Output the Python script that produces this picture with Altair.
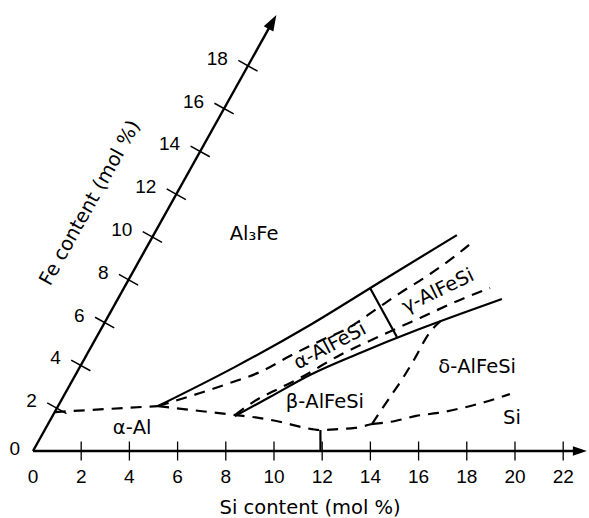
import altair as alt
import pandas as pd

SKEW = 0.4955  # horizontal shift (in Si units) per unit of Fe on the 60-degree Fe axis

# ---------------- axes ----------------
si_ticks = [2, 4, 6, 8, 10, 12, 14, 16, 18, 20, 22]
si_labels = [0, 2, 4, 6, 8, 10, 12, 14, 16, 18, 20, 22]
fe_ticks = [2, 4, 6, 8, 10, 12, 14, 16, 18]
fe_labels = [2, 4, 6, 8, 10, 12, 14, 16, 18]
si_axis_end = 22.7
fe_axis_end = 19.9
si_arrow_at = 22.62
fe_arrow_at = 19.97

# ---------------- phase boundaries (Si mol %, Fe mol %) ----------------
upper_solid_si = [4.15, 6.44, 8.58, 10.62, 12.59]
upper_solid_fe = [2.10, 3.93, 5.89, 8.04, 10.09]
lower_solid_si = [7.57, 8.58, 9.73, 11.30, 13.13, 14.55, 15.94]
lower_solid_fe = [1.63, 2.52, 3.55, 4.58, 5.65, 6.40, 7.10]
divider_si = [10.21, 12.46]
divider_fe = [7.62, 5.33]
eutectic_si = [11.93, 11.44]
eutectic_fe = [0.0, 0.98]

alal_upper_si = [0.0, 4.15]
alal_upper_fe = [1.82, 2.10]
band_upper_si = [4.15, 5.59, 6.60, 7.59, 8.46, 9.36, 10.28, 11.00, 11.57, 12.38, 13.00, 13.45]
band_upper_fe = [2.10, 2.71, 3.18, 3.69, 4.44, 5.14, 5.79, 6.68, 7.38, 8.27, 9.11, 9.86]
band_lower_si = [7.55, 8.05, 8.79, 9.39, 10.52, 11.74, 12.98, 14.22, 15.19]
band_lower_fe = [1.68, 2.34, 2.94, 3.41, 4.49, 5.37, 6.22, 7.06, 7.62]
alal_lower_si = [4.15, 6.00, 7.55, 8.66, 9.81, 10.75, 11.42, 12.23, 12.83, 13.44]
alal_lower_fe = [2.10, 1.87, 1.68, 1.54, 1.31, 1.08, 0.98, 1.03, 1.08, 1.26]
delta_si = [13.44, 13.55, 13.66, 13.70, 13.70, 13.90]
delta_fe = [1.26, 2.38, 3.41, 4.35, 5.42, 6.06]
si_phase_si = [13.44, 14.33, 15.08, 15.93, 16.81, 17.62, 18.47]
si_phase_fe = [1.26, 1.40, 1.64, 1.78, 2.01, 2.29, 2.66]

# ---------------- region labels ----------------
flat_text = ["Al\u2083Fe", "\u03b1-Al", "\u03b2-AlFeSi", "\u03b4-AlFeSi", "Si"]
flat_si = [4.15, 3.58, 10.98, 16.48, 19.11]
flat_fe = [10.14, 1.08, 2.29, 3.93, 1.54]
rot_text = ["\u03b1-AlFeSi", "\u03b3-AlFeSi"]
rot_si = [9.89, 13.10]
rot_fe = [4.91, 7.48]
rot_angle = [332, 334]


def line_df(name, si, fe):
    return pd.DataFrame({"name": name, "si": si, "fe": fe, "i": list(range(len(si)))})


axes_df = pd.concat([
    line_df("si_axis", [0, si_axis_end], [0, 0]),
    line_df("fe_axis", [0, 0], [0, fe_axis_end]),
])
curve_df = pd.concat([
    line_df("upper", upper_solid_si, upper_solid_fe),
    line_df("lower", lower_solid_si, lower_solid_fe),
])
straight_df = pd.concat([
    line_df("divider", divider_si, divider_fe),
    line_df("eutectic", eutectic_si, eutectic_fe),
])
dashed_df = pd.concat([
    line_df("alal_upper", alal_upper_si, alal_upper_fe),
    line_df("band_upper", band_upper_si, band_upper_fe),
    line_df("band_lower", band_lower_si, band_lower_fe),
    line_df("alal_lower", alal_lower_si, alal_lower_fe),
    line_df("delta", delta_si, delta_fe),
    line_df("si", si_phase_si, si_phase_fe),
])

xs = alt.Scale(domain=[-1.369, 23.071], nice=False, zero=False)
ys = alt.Scale(domain=[-3.131, 21.075], nice=False, zero=False)
X = alt.X("X:Q", scale=xs, axis=None)
Y = alt.Y("fe:Q", scale=ys, axis=None)
CALC = f"datum.si + {SKEW} * datum.fe"


def base(df):
    return alt.Chart(df).transform_calculate(X=CALC)


layers = []

layers.append(base(axes_df).mark_line(color="black", strokeWidth=2.4).encode(
    x=X, y=Y, detail="name:N", order="i:Q"))
layers.append(base(curve_df).mark_line(color="black", strokeWidth=2.2, interpolate="monotone").encode(
    x=X, y=Y, detail="name:N", order="i:Q"))
layers.append(base(straight_df).mark_line(color="black", strokeWidth=2.2).encode(
    x=X, y=Y, detail="name:N", order="i:Q"))
layers.append(base(dashed_df).mark_line(color="black", strokeWidth=2.2, strokeDash=[11, 8],
                                        interpolate="monotone").encode(
    x=X, y=Y, detail="name:N", order="i:Q"))

# Si axis ticks
si_tick_df = pd.DataFrame({"si": si_ticks, "fe": [0] * len(si_ticks)})
layers.append(base(si_tick_df).mark_point(shape="M0,-1L0,1", size=360, filled=False, color="black",
                                          strokeWidth=1.3, opacity=1).encode(x=X, y=Y))
# Fe axis ticks (perpendicular to the slanted axis)
fe_tick_df = pd.DataFrame({"si": [0] * len(fe_ticks), "fe": fe_ticks})
layers.append(base(fe_tick_df).mark_point(shape="M-1,0L1,0", angle=29.2, size=484, filled=False,
                                          color="black", strokeWidth=1.5, opacity=1).encode(x=X, y=Y))

# Arrowheads
arrow = "M0,-1L0.55,0.6L-0.55,0.6Z"
layers.append(base(pd.DataFrame({"si": [si_arrow_at], "fe": [0]})).mark_point(
    shape=arrow, angle=90, size=306, filled=True, color="black", opacity=1, strokeWidth=0).encode(x=X, y=Y))
layers.append(base(pd.DataFrame({"si": [0], "fe": [fe_arrow_at]})).mark_point(
    shape=arrow, angle=29.2, size=400, filled=True, color="black", opacity=1, strokeWidth=0).encode(x=X, y=Y))

# Tick labels
TICK_FONT = "Liberation Sans"
si_lab_df = pd.DataFrame({"si": si_labels, "fe": [0] * len(si_labels), "t": [str(v) for v in si_labels]})
layers.append(base(si_lab_df).mark_text(font=TICK_FONT, fontSize=19, dy=26, align="center",
                                        baseline="middle", color="black").encode(x=X, y=Y, text="t:N"))
fe_lab_df = pd.DataFrame({"si": [0] * len(fe_labels), "fe": fe_labels, "t": [str(v) for v in fe_labels]})
layers.append(base(fe_lab_df).mark_text(font=TICK_FONT, fontSize=19, dx=-20, dy=-7, align="right",
                                        baseline="middle", color="black").encode(x=X, y=Y, text="t:N"))
layers.append(base(pd.DataFrame({"si": [0], "fe": [0], "t": ["0"]})).mark_text(
    font=TICK_FONT, fontSize=19, dx=-13, dy=-2, align="right", baseline="middle", color="black").encode(
    x=X, y=Y, text="t:N"))

# Axis titles
TITLE_FONT = "DejaVu Sans"
layers.append(base(pd.DataFrame({"si": [11.5], "fe": [0], "t": ["Si content (mol %)"]})).mark_text(
    font=TITLE_FONT, fontSize=19.5, dy=57, align="center", baseline="middle", color="black").encode(
    x=X, y=Y, text="t:N"))
layers.append(base(pd.DataFrame({"si": [-3.38], "fe": [11.59], "t": ["Fe content (mol %)"]})).mark_text(
    font=TITLE_FONT, fontSize=19.5, angle=299.2, align="center", baseline="middle", color="black").encode(
    x=X, y=Y, text="t:N"))

# Region labels
flat_df = pd.DataFrame({"si": flat_si, "fe": flat_fe, "t": flat_text})
layers.append(base(flat_df).mark_text(font=TITLE_FONT, fontSize=19.5, align="center", baseline="middle",
                                      color="black").encode(x=X, y=Y, text="t:N"))
for t, s, f, a in zip(rot_text, rot_si, rot_fe, rot_angle):
    layers.append(base(pd.DataFrame({"si": [s], "fe": [f], "t": [t]})).mark_text(
        font=TITLE_FONT, fontSize=19.5, angle=a, align="center", baseline="middle", color="black").encode(
        x=X, y=Y, text="t:N"))

chart = alt.layer(*layers).properties(
    width=589, height=518, autosize="none", padding=0, background="white"
).configure_view(stroke=None)

chart.save("out.html", embed_options={"renderer": "svg", "actions": False})
